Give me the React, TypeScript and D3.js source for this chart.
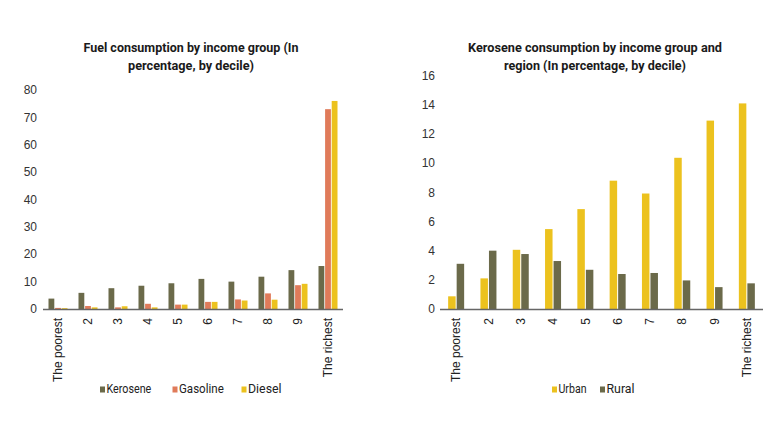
import React from 'react';
import * as d3 from 'd3';

const deciles = ['The poorest', '2', '3', '4', '5', '6', '7', '8', '9', 'The richest'];

// Left chart: fuel consumption by income group (%)
const fuelSeries = ['Kerosene', 'Gasoline', 'Diesel'];
const kerosene = [3.8, 5.9, 7.6, 8.5, 9.4, 11, 10, 11.8, 14.2, 15.7];
const gasoline = [0.4, 1.1, 0.6, 1.9, 1.6, 2.6, 3.5, 5.7, 8.7, 73];
const diesel = [0.3, 0.6, 1.0, 0.6, 1.6, 2.6, 3.1, 3.4, 9.2, 76];
const fuelTicks = [0, 10, 20, 30, 40, 50, 60, 70, 80];

// Right chart: kerosene consumption by income group and region (%)
const regionSeries = ['Urban', 'Rural'];
const urban = [0.87, 2.1, 4.06, 5.48, 6.85, 8.8, 7.92, 10.37, 12.92, 14.1];
const rural = [3.1, 4.0, 3.77, 3.29, 2.69, 2.4, 2.47, 1.96, 1.5, 1.76];
const regionTicks = [0, 2, 4, 6, 8, 10, 12, 14, 16];

const colors: Record<string, string> = {
	Kerosene: '#6b6a4a',
	Gasoline: '#e07b5a',
	Diesel: '#ecc21e',
	Urban: '#ecc21e',
	Rural: '#6b6a4a',
};

const TITLE_FONT = 'Roboto, "Liberation Sans", sans-serif';
const TICK_FONT = '"Liberation Sans", Arial, sans-serif';

interface PanelProps {
	title: string[];
	titleWidths: number[];
	titleX: number;
	series: string[];
	values: number[][];
	ticks: number[];
	yTop: number;
	xRange: [number, number];
	innerWidth: number;
	innerPadding: number;
	legendX: number[];
	tickX: number;
}

const Panel: React.FC<PanelProps> = ({ title, titleWidths, titleX, series, values, ticks, yTop, xRange, innerWidth, innerPadding, legendX, tickX }) => {
	const y = d3.scaleLinear().domain([0, ticks[ticks.length - 1]]).range([309, yTop]);
	const x0 = d3.scaleBand<string>().domain(deciles).range(xRange);
	const x1 = d3.scaleBand<string>().domain(series)
		.range([(x0.bandwidth() - innerWidth) / 2, (x0.bandwidth() + innerWidth) / 2])
		.paddingInner(innerPadding);

	return (
		<g>
			{title.map((line, i) => (
				<text key={line} x={titleX} y={52 + i * 17.5} textAnchor="middle"
					textLength={titleWidths[i]} lengthAdjust="spacingAndGlyphs"
					fontFamily={TITLE_FONT} fontWeight="bold" fontSize={13.5} fill="#1a1a1a">{line}</text>
			))}
			{ticks.map(t => (
				<text key={t} x={tickX} y={y(t)} dy="0.35em" textAnchor="end"
					fontFamily={TICK_FONT} fontSize={12} fill="#333">{t}</text>
			))}
			{deciles.map((d, i) => (
				<g key={d} transform={`translate(${x0(d)},0)`}>
					{series.map((s, j) => (
						<rect key={s} x={x1(s)} width={x1.bandwidth()}
							y={y(values[j][i])} height={y(0) - y(values[j][i])} fill={colors[s]} />
					))}
					<text transform={`translate(${x0.bandwidth() / 2},318) rotate(-90)`} dy="0.35em" textAnchor="end"
						fontFamily={TICK_FONT} fontSize={12} fill="#222">{d}</text>
				</g>
			))}
			<line x1={xRange[0]} x2={xRange[1]} y1={y(0) + 0.5} y2={y(0) + 0.5} stroke="#666" strokeWidth={1.5} />
			{series.map((s, j) => (
				<g key={s} transform={`translate(${legendX[j]},0)`}>
					<rect x={0} y={386.5} width={5} height={6} fill={colors[s]} />
					<text x={6.5} y={393} fontFamily={TITLE_FONT} fontSize={13} fill="#222"
						textLength={s.length * 5.6} lengthAdjust="spacingAndGlyphs">{s}</text>
				</g>
			))}
		</g>
	);
};

const App: React.FC = () => (
	<svg width={780} height={439} viewBox="0 0 780 439"
		style={{ position: 'absolute', left: 0, top: 0, background: '#fff' }}>
		<Panel
			title={['Fuel consumption by income group (In', 'percentage, by decile)']}
			titleWidths={[215, 126]}
			titleX={191}
			series={fuelSeries}
			values={[kerosene, gasoline, diesel]}
			ticks={fuelTicks}
			yTop={90}
			xRange={[43, 343]}
			innerWidth={19}
			innerPadding={0.12}
			legendX={[100, 172.5, 241.5]}
			tickX={37}
		/>
		<Panel
			title={['Kerosene consumption by income group and', 'region (In percentage, by decile)']}
			titleWidths={[254, 182]}
			titleX={595}
			series={regionSeries}
			values={[urban, rural]}
			ticks={regionTicks}
			yTop={75.7}
			xRange={[440, 763]}
			innerWidth={16}
			innerPadding={0.12}
			legendX={[552, 600]}
			tickX={435}
		/>
	</svg>
);

export default App;
